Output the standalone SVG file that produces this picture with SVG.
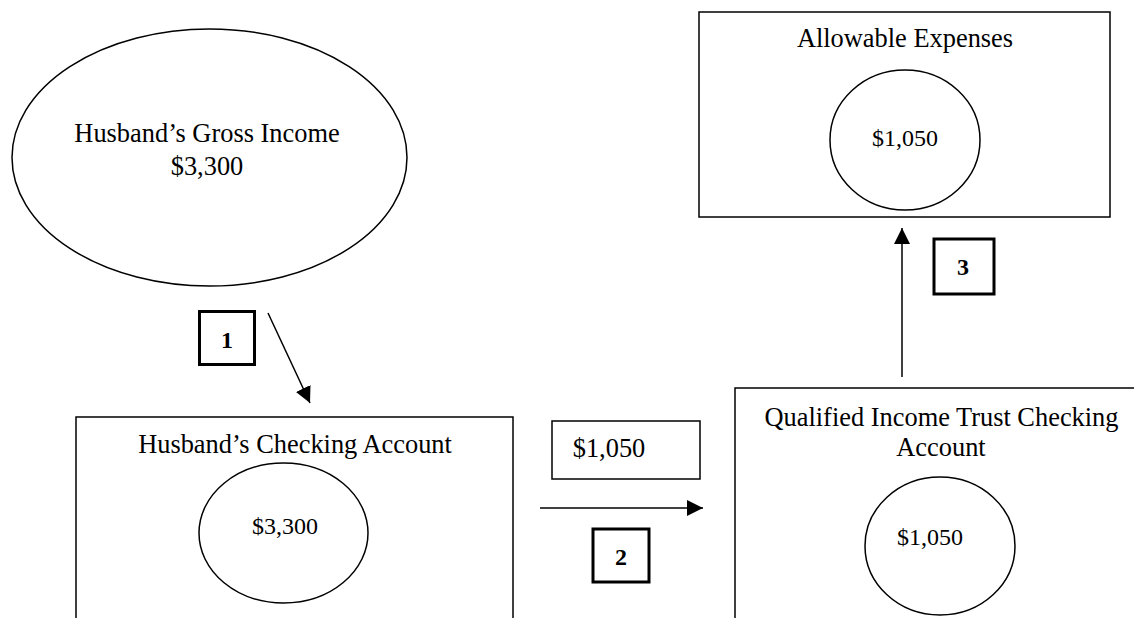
<svg xmlns="http://www.w3.org/2000/svg" width="1134" height="618" viewBox="0 0 1134 618">
<defs>
<style>
.t{font-family:"Liberation Serif","Times New Roman",serif;fill:#000;text-anchor:middle}
.h{font-size:26.4px}
.v{font-size:24px}
.n{font-size:24px;font-weight:bold}
.s{fill:#fff;stroke:#000;stroke-width:1.5}
.k{fill:#fff;stroke:#000;stroke-width:3}
.c{stroke:#000;stroke-width:1.5;fill:none}
</style>
<marker id="ah" markerUnits="userSpaceOnUse" viewBox="0 0 16 16" markerWidth="16" markerHeight="16" refX="16" refY="8" orient="auto">
<path d="M0,0 L16,8 L0,16 z" fill="#000"/>
</marker>
</defs>
<rect width="1134" height="618" fill="#fff"/>
<g id="gross-income">
<ellipse class="s" cx="209.5" cy="157.5" rx="197.5" ry="128.5"/>
<text class="t h" x="207" y="142">Husband’s Gross Income</text>
<text class="t h" x="207" y="175">$3,300</text>
</g>
<g id="husband-checking">
<rect class="s" x="76" y="417" width="437" height="220"/>
<text class="t h" x="295" y="453">Husband’s Checking Account</text>
<ellipse class="s" cx="283.5" cy="533" rx="84.5" ry="70"/>
<text class="t v" x="285" y="534">$3,300</text>
</g>
<g id="allowable-expenses">
<rect class="s" x="699" y="12" width="411" height="205"/>
<text class="t h" x="905" y="47">Allowable Expenses</text>
<ellipse class="s" cx="905" cy="140" rx="75" ry="70"/>
<text class="t v" x="905" y="146">$1,050</text>
</g>
<g id="qit-checking">
<rect class="s" x="735" y="388" width="412" height="250"/>
<text class="t h" x="941.5" y="426">Qualified Income Trust Checking</text>
<text class="t h" x="941" y="456">Account</text>
<ellipse class="s" cx="940" cy="546" rx="75" ry="69"/>
<text class="t v" x="930" y="545">$1,050</text>
</g>
<g id="amount-box">
<rect class="s" x="552" y="421" width="148" height="58"/>
<text class="t h" x="609" y="457">$1,050</text>
</g>
<g id="step-1">
<rect class="k" x="199.5" y="311.5" width="55" height="53"/>
<text class="t n" x="227" y="348">1</text>
</g>
<g id="step-2">
<rect class="k" x="593" y="529" width="56" height="53"/>
<text class="t n" x="621" y="565">2</text>
</g>
<g id="step-3">
<rect class="k" x="934" y="239" width="60" height="55"/>
<text class="t n" x="963" y="275">3</text>
</g>
<g id="connectors">
<line class="c" x1="268" y1="313" x2="310" y2="403" marker-end="url(#ah)"/>
<line class="c" x1="540" y1="508" x2="703" y2="508" marker-end="url(#ah)"/>
<line class="c" x1="902" y1="377" x2="902" y2="228" marker-end="url(#ah)"/>
</g>
</svg>
